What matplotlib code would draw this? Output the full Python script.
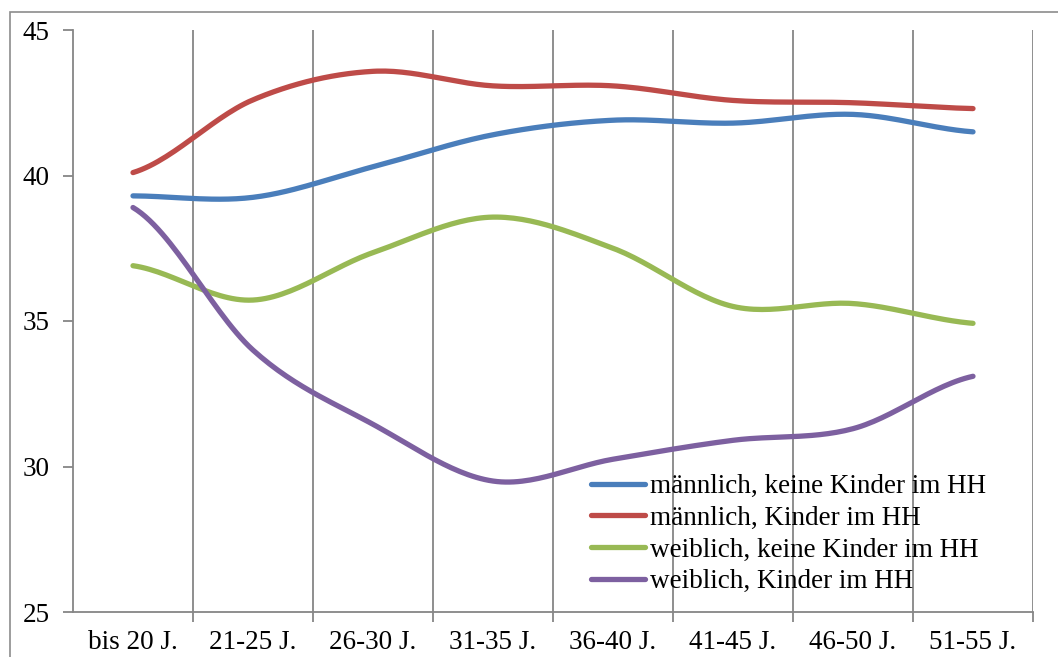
import matplotlib
matplotlib.use('Agg')
import matplotlib.pyplot as plt
from matplotlib.patches import Rectangle
import numpy as np

categories = ['bis 20 J.', '21-25 J.', '26-30 J.', '31-35 J.',
              '36-40 J.', '41-45 J.', '46-50 J.', '51-55 J.']
m_keine = [39.3, 39.25, 40.3, 41.4, 41.9, 41.8, 42.1, 41.5]
m_kinder = [40.1, 42.6, 43.58, 43.08, 43.08, 42.58, 42.5, 42.3]
w_keine = [36.9, 35.72, 37.35, 38.57, 37.5, 35.5, 35.6, 34.92]
w_kinder = [38.9, 34.0, 31.45, 29.5, 30.25, 30.9, 31.3, 33.1]
labels = ['männlich, keine Kinder im HH', 'männlich, Kinder im HH',
          'weiblich, keine Kinder im HH', 'weiblich, Kinder im HH']
colors = ['#4A7EBB', '#BE4B48', '#98B954', '#7D60A0']

plt.rcParams['font.family'] = ['Liberation Serif', 'DejaVu Serif']
plt.rcParams['font.size'] = 19.5


def smooth(y, n=30):
    # Catmull-Rom style smoothing like Excel's "smoothed line"
    y = np.asarray(y, dtype=float)
    x = np.arange(len(y), dtype=float)
    px = np.concatenate([[2 * x[0] - x[1]], x, [2 * x[-1] - x[-2]]])
    py = np.concatenate([[y[0]], y, [y[-1]]])
    xs, ys = [], []
    for i in range(1, len(px) - 2):
        p0, p1, p2, p3 = py[i - 1], py[i], py[i + 1], py[i + 2]
        x0, x1, x2, x3 = px[i - 1], px[i], px[i + 1], px[i + 2]
        c1y = p1 + (p2 - p0) / 6
        c2y = p2 - (p3 - p1) / 6
        c1x = x1 + (x2 - x0) / 6
        c2x = x2 - (x3 - x1) / 6
        t = np.linspace(0, 1, n)
        b0 = (1 - t) ** 3
        b1 = 3 * (1 - t) ** 2 * t
        b2 = 3 * (1 - t) * t ** 2
        b3 = t ** 3
        xs.append(b0 * x1 + b1 * c1x + b2 * c2x + b3 * x2)
        ys.append(b0 * p1 + b1 * c1y + b2 * c2y + b3 * p2)
    return np.concatenate(xs), np.concatenate(ys)


fig = plt.figure(figsize=(10.58, 6.57), dpi=100)
ax = fig.add_axes([73 / 1058, 1 - 612 / 657, 960 / 1058, 582 / 657])

for series, col, lab in zip([m_keine, m_kinder, w_keine, w_kinder], colors, labels):
    sx, sy = smooth(series)
    ax.plot(sx, sy, color=col, lw=3.8, solid_capstyle='round', label=lab)

grid_col = '#868686'
ax.set_xlim(-0.5, len(categories) - 0.5)
ax.set_ylim(25, 45)
ax.set_yticks([25, 30, 35, 40, 45])
ax.set_xticks(range(len(categories)))
ax.set_xticklabels(categories)
ax.set_xticks(np.arange(0.5, len(categories), 1), minor=True)
ax.tick_params(axis='x', which='major', length=0, pad=13)
ax.tick_params(axis='x', which='minor', length=7, width=1.3, color=grid_col)
ax.tick_params(axis='y', length=7, width=1.3, color=grid_col, pad=10)
for b in np.arange(0.5, len(categories), 1):
    ax.axvline(b, color=grid_col, lw=1.3, zorder=0)
for s in ['top', 'right']:
    ax.spines[s].set_visible(False)
for s in ['left', 'bottom']:
    ax.spines[s].set_color(grid_col)
    ax.spines[s].set_linewidth(1.3)

leg = ax.legend(loc='upper left', bbox_to_anchor=(591 / 1058, 1 - 474 / 657),
                bbox_transform=fig.transFigure, frameon=False,
                handlelength=2.0, handletextpad=0.18, labelspacing=0.25,
                borderpad=0, borderaxespad=0)

fig.patches.append(Rectangle((10 / 1058, -0.1), 1.2, 1.1 - 12 / 657,
                             transform=fig.transFigure, fill=False,
                             edgecolor='#8c8c8c', lw=1.2))

fig.savefig('out.png', dpi=100)
